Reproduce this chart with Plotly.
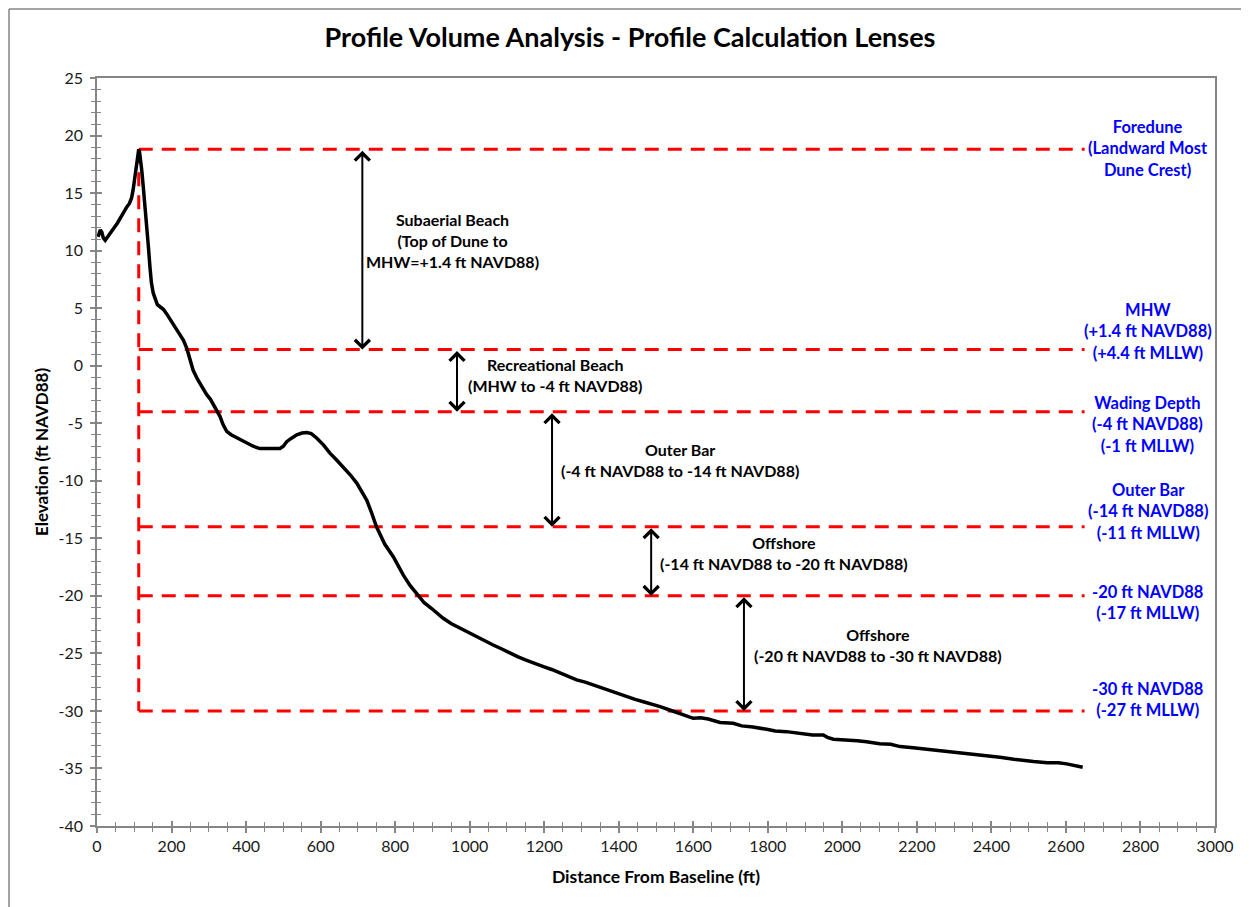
import plotly.graph_objects as go

# ---------------- data ----------------
profile_x = [3, 9, 13, 17, 22, 30, 44, 55, 62, 71, 80, 87, 93, 97, 100, 103, 106, 109, 112,
             114, 117, 120, 124, 128, 133, 138, 142, 146, 151, 157, 162, 170, 178, 187, 200,
             212, 223, 232, 241, 250, 258, 270, 282, 294, 304, 312, 322, 330, 338, 348, 360,
             372, 384, 400, 419, 437, 455, 473, 491, 500, 509, 522, 536, 550, 563, 575, 590,
             608, 625, 643, 661, 680, 697, 712, 724, 737, 750, 772, 795, 822, 840, 858, 878,
             898, 929, 950, 974, 1001, 1030, 1063, 1085, 1108, 1130, 1153, 1175, 1198, 1220,
             1242, 1265, 1287, 1310, 1332, 1355, 1377, 1400, 1421, 1444, 1466, 1490, 1511,
             1535, 1555, 1580, 1600, 1620, 1640, 1672, 1707, 1730, 1760, 1797, 1820, 1850,
             1886, 1920, 1949, 1960, 1976, 2010, 2040, 2065, 2100, 2130, 2155, 2190, 2220,
             2244, 2280, 2310, 2334, 2370, 2400, 2423, 2460, 2490, 2513, 2550, 2580, 2602,
             2625, 2645]
profile_y = [11.2, 11.8, 11.6, 11.1, 10.9, 11.3, 11.9, 12.4, 12.8, 13.4, 13.8, 14.1, 14.6,
             15.3, 16.1, 17.0, 17.8, 18.5, 18.8, 18.6, 17.9, 17.0, 15.6, 13.8, 12.1, 10.3,
             8.6, 7.2, 6.3, 5.6, 5.3, 5.1, 4.9, 4.5, 3.8, 3.2, 2.7, 2.2, 1.5, 0.5, -0.4,
             -1.2, -1.9, -2.5, -2.9, -3.4, -3.9, -4.4, -5.1, -5.7, -6.0, -6.2, -6.45, -6.75,
             -7.0, -7.2, -7.2, -7.15, -7.2, -7.0, -6.6, -6.3, -6.0, -5.85, -5.8, -5.9, -6.3,
             -6.9, -7.6, -8.2, -8.8, -9.5, -10.2, -11.0, -11.7, -12.8, -14.0, -15.5, -16.6,
             -18.2, -19.1, -19.8, -20.6, -21.1, -21.95, -22.4, -22.8, -23.25, -23.8, -24.27,
             -24.6, -25.0, -25.3, -25.6, -25.9, -26.15, -26.4, -26.7, -27.0, -27.3, -27.5,
             -27.75, -28.0, -28.3, -28.5, -28.76, -29.0, -29.2, -29.4, -29.63, -29.9, -30.15,
             -30.4, -30.64, -30.6, -30.7, -31.0, -31.07, -31.3, -31.4, -31.6, -31.75, -31.8,
             -31.95, -32.1, -32.1, -32.3, -32.46, -32.5, -32.6, -32.67, -32.85, -32.9, -33.1,
             -33.2, -33.3, -33.4, -33.5, -33.6, -33.68, -33.85, -33.95, -34.03, -34.2, -34.35,
             -34.4, -34.5, -34.5, -34.6, -34.75, -34.9]

# y-axis ticks (hyphen minus as in the original)
y_tick_vals = [-40, -35, -30, -25, -20, -15, -10, -5, 0, 5, 10, 15, 20, 25]
y_tick_text = ["-40", "-35", "-30", "-25", "-20", "-15", "-10", "-5", "0", "5", "10",
               "15", "20", "25"]

# lens boundaries (ft NAVD88)
lens_levels = [18.8, 1.4, -4, -14, -20, -30]
lens_x_start = 112
lens_x_end = 2650

lens_labels = [
    "Foredune<br>(Landward Most<br>Dune Crest)",
    "MHW<br>(+1.4 ft NAVD88)<br>(+4.4 ft MLLW)",
    "Wading Depth<br>(-4 ft NAVD88)<br>(-1 ft MLLW)",
    "Outer Bar<br>(-14 ft NAVD88)<br>(-11 ft MLLW)",
    "-20 ft NAVD88<br>(-17 ft MLLW)",
    "-30 ft NAVD88<br>(-27 ft MLLW)",
]
lens_label_y = [18.9, 3.0, -5.15, -12.7, -20.6, -29.0]
lens_label_x = 2820

# zone arrows: x position, top level, bottom level
arrow_x = [712, 966, 1221, 1487, 1736]
arrow_top = [18.8, 1.4, -4, -14, -20]
arrow_bot = [1.4, -4, -14, -20, -30]

zone_labels = [
    "Subaerial Beach<br>(Top of Dune to<br>MHW=+1.4 ft NAVD88)",
    "Recreational Beach<br>(MHW to -4 ft NAVD88)",
    "Outer Bar<br>(-4 ft NAVD88 to -14 ft NAVD88)",
    "Offshore<br>(-14 ft NAVD88 to -20 ft NAVD88)",
    "Offshore<br>(-20 ft NAVD88 to -30 ft NAVD88)",
]
zone_label_x = [953, 1229, 1564, 1843, 2096]
zone_label_y = [10.9, -0.8, -8.2, -16.3, -24.3]

FONT = "Lato"
AXIS_GRAY = "#868686"

# plot area in figure pixels (page body adds an 8px offset)
L, R, T, B = 89, 42, 70, 89
PW, PH = 1249 - L - R, 907 - T - B

fig = go.Figure()

# red dashed lens lines
hx, hy = [], []
for lv in lens_levels:
    hx += [lens_x_start, lens_x_end, None]
    hy += [lv, lv, None]
fig.add_trace(go.Scatter(x=hx, y=hy, mode="lines",
                         line=dict(color="#FF0000", width=3, dash="14px,9px"),
                         hoverinfo="skip", showlegend=False))
fig.add_trace(go.Scatter(x=[lens_x_start, lens_x_start], y=[lens_levels[0], lens_levels[-1]],
                         mode="lines",
                         line=dict(color="#FF0000", width=3, dash="14px,9px"),
                         hoverinfo="skip", showlegend=False))

# profile
fig.add_trace(go.Scatter(x=profile_x, y=profile_y, mode="lines",
                         line=dict(color="black", width=3.5),
                         showlegend=False))

# empty trace to instantiate overlay axes for inside ticks
fig.add_trace(go.Scatter(x=[], y=[], xaxis="x2", yaxis="y2", showlegend=False))

annotations = []
for xa, yt, yb in zip(arrow_x, arrow_top, arrow_bot):
    annotations.append(dict(x=xa, y=yb, ax=xa, ay=yt, xref="x", yref="y",
                            axref="x", ayref="y", text="", showarrow=True,
                            arrowside="end+start", arrowhead=4, startarrowhead=4,
                            arrowsize=1.45, startarrowsize=1.45, arrowwidth=2,
                            arrowcolor="black", standoff=0, startstandoff=0))
for t, xx, yy in zip(zone_labels, zone_label_x, zone_label_y):
    annotations.append(dict(x=xx, y=yy, xref="x", yref="y", text=t, showarrow=False,
                            font=dict(family=FONT, size=16, color="black", weight="bold"),
                            align="center", xanchor="center", yanchor="middle"))
for t, yy in zip(lens_labels, lens_label_y):
    annotations.append(dict(x=lens_label_x, y=yy, xref="x", yref="y", text=t,
                            showarrow=False,
                            font=dict(family=FONT, size=16.5, color="#0000FF", weight="bold"),
                            align="center", xanchor="center", yanchor="middle"))

tickfont = dict(family=FONT, size=16, color="#1a1a1a")

bx = (1 - L) / PW
by = (PH + T - 1) / PH

fig.update_layout(
    width=1249, height=907,
    margin=dict(l=L, r=R, t=T, b=B),
    paper_bgcolor="white", plot_bgcolor="white",
    title=dict(text="Profile Volume Analysis - Profile Calculation Lenses",
               x=622 / 1249, xref="container", xanchor="center",
               y=1 - 30 / 907, yref="container", yanchor="middle",
               font=dict(family=FONT, size=27, color="black", weight="bold")),
    xaxis=dict(range=[0, 3000], tick0=0, dtick=200, showgrid=False, zeroline=False,
               showline=True, linecolor=AXIS_GRAY, linewidth=1.5, mirror=True,
               ticks="outside", ticklen=5, tickwidth=1.5, tickcolor=AXIS_GRAY,
               minor=dict(dtick=50, ticks="outside", ticklen=4, tickwidth=1,
                          tickcolor=AXIS_GRAY, showgrid=False),
               tickfont=tickfont,
               title=dict(text="Distance From Baseline (ft)", standoff=17,
                          font=dict(family=FONT, size=17.5, color="black", weight="bold"))),
    yaxis=dict(range=[-40, 25], tickmode="array", tickvals=y_tick_vals,
               ticktext=y_tick_text, showgrid=False, zeroline=False,
               showline=True, linecolor=AXIS_GRAY, linewidth=1.5, mirror=True,
               ticks="outside", ticklen=5, tickwidth=1.5, tickcolor=AXIS_GRAY,
               minor=dict(tick0=-40, dtick=1, ticks="outside", ticklen=4, tickwidth=1,
                          tickcolor=AXIS_GRAY, showgrid=False),
               tickfont=tickfont, ticklabelstandoff=4,
               title=dict(text="Elevation (ft NAVD88)", standoff=6,
                          font=dict(family=FONT, size=17, color="black", weight="bold"))),
    xaxis2=dict(overlaying="x", anchor="y2", side="bottom", range=[0, 3000],
                tick0=0, dtick=200, showgrid=False, zeroline=False, showline=False,
                ticks="inside", ticklen=5, tickwidth=1.5, tickcolor=AXIS_GRAY,
                minor=dict(dtick=50, ticks="inside", ticklen=4, tickwidth=1,
                           tickcolor=AXIS_GRAY, showgrid=False),
                showticklabels=False),
    yaxis2=dict(overlaying="y", anchor="x2", side="left", range=[-40, 25],
                tick0=-40, dtick=5, showgrid=False, zeroline=False, showline=False,
                ticks="inside", ticklen=5, tickwidth=1.5, tickcolor=AXIS_GRAY,
                minor=dict(dtick=1, ticks="inside", ticklen=4, tickwidth=1,
                           tickcolor=AXIS_GRAY, showgrid=False),
                showticklabels=False),
    annotations=annotations,
    shapes=[
        dict(type="line", xref="paper", yref="paper", x0=bx, x1=1.2,
             y0=by, y1=by, line=dict(color=AXIS_GRAY, width=1.5)),
        dict(type="line", xref="paper", yref="paper", x0=bx, x1=bx,
             y0=-0.2, y1=by, line=dict(color=AXIS_GRAY, width=1.5)),
    ],
)

fig.write_html("out.html")
